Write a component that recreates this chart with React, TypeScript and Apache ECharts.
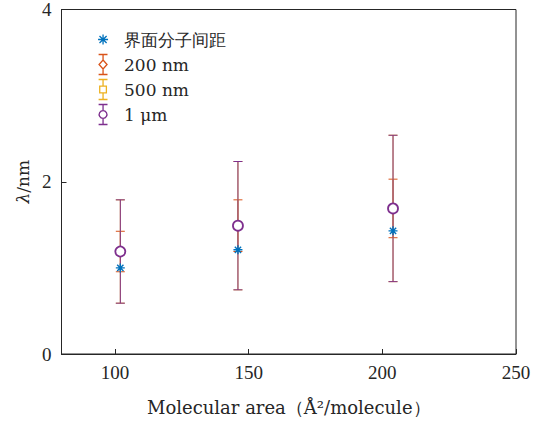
import React, { useEffect, useRef } from "react";
import * as echarts from "echarts";

const xValues = [102, 146, 204];
const spacingValues = [1.0, 1.21, 1.43];
const nm200Mean = [1.19, 1.49, 1.69];
const nm200Err = [0.235, 0.3, 0.34];
const nm500Mean = [1.19, 1.49, 1.69];
const nm500Err = [0.6, 0.745, 0.85];
const um1Mean = [1.19, 1.49, 1.69];
const um1Err = [0.6, 0.745, 0.85];
const xTicks = [100, 150, 200, 250];

const seriesNames = ["界面分子间距", "200 nm", "500 nm", "1 μm"];
const colors = ["#0072BD", "#D95319", "#EDB120", "#7E2F8E"];

const TICKFONT = "Liberation Serif";
const SERIF = "DejaVu Serif";
const AX = "#262626";

const asterisk =
  "path://M5,0L5,10M0,5L10,5M1.5,1.5L8.5,8.5M1.5,8.5L8.5,1.5";
const asteriskLegend =
  "path://M0,0L0,0M10,18L10,18M5,4.5L5,13.5M0.5,9L9.5,9M1.8,5.8L8.2,12.2M1.8,12.2L8.2,5.8";
const ebDiamond =
  "path://M1,0L9,0M5,0L5,5M5,5L8.6,9L5,13L1.4,9ZM5,13L5,18M1,18L9,18";
const ebSquare =
  "path://M1,0L9,0M5,0L5,6M2,6L8,6L8,12L2,12ZM5,12L5,18M1,18L9,18";
const ebCircle =
  "path://M1,0L9,0M5,0L5,5.5M5,5.5A3.5,3.5,0,1,1,4.99,5.5ZM5,12.5L5,18M1,18L9,18";

function errorSeries(name: string, color: string, mean: number[], err: number[], z: number) {
  return {
    name,
    type: "custom",
    z,
    data: xValues.map((x, i) => [x, mean[i], err[i]]),
    encode: { x: 0, y: 1 },
    renderItem: (params: any, api: any) => {
      const x = api.value(0);
      const y = api.value(1);
      const e = api.value(2);
      const top = api.coord([x, y + e]);
      const bot = api.coord([x, y - e]);
      const hw = 4.5;
      const style = { stroke: color, lineWidth: 1, fill: "none" };
      return {
        type: "group",
        children: [
          { type: "line", shape: { x1: top[0], y1: top[1], x2: bot[0], y2: bot[1] }, style },
          { type: "line", shape: { x1: top[0] - hw, y1: top[1], x2: top[0] + hw, y2: top[1] }, style },
          { type: "line", shape: { x1: bot[0] - hw, y1: bot[1], x2: bot[0] + hw, y2: bot[1] }, style },
        ],
      };
    },
  };
}

function markerSeries(name: string, color: string, fill: string, mean: number[], symbol: string, size: number, z: number) {
  return {
    name,
    type: "scatter",
    z,
    symbol,
    symbolSize: size,
    data: xValues.map((x, i) => [x, mean[i]]),
    itemStyle: { color: fill, borderColor: color, borderWidth: 1.8, opacity: 1 },
    emphasis: { disabled: true },
  };
}

export default function App() {
  const ref = useRef<HTMLDivElement>(null);
  useEffect(() => {
    if (!ref.current) return;
    const chart = echarts.init(ref.current, null, { renderer: "svg" });
    const legendIcons = [asteriskLegend, ebDiamond, ebSquare, ebCircle];
    chart.setOption({
      animation: false,
      textStyle: { fontFamily: SERIF },
      grid: {
        left: 61.5,
        right: 28,
        top: 7.5,
        bottom: 67,
        show: true,
        borderColor: AX,
        borderWidth: 1,
        backgroundColor: "transparent",
      },
      legend: {
        orient: "vertical",
        left: 95,
        top: 27,
        padding: 0,
        itemWidth: 32,
        itemHeight: 20,
        itemGap: 0,
        symbolKeepAspect: true,
        textStyle: { fontFamily: SERIF, fontSize: 17, color: AX },
        data: seriesNames.map((n, i) => ({
          name: n,
          icon: legendIcons[i],
          itemStyle: { color: "none", borderColor: colors[i], borderWidth: 1.3 },
        })),
      },
      xAxis: {
        type: "value",
        min: 80,
        max: 250,
        name: "Molecular area（Å²/molecule）",
        nameLocation: "middle",
        nameGap: 44,
        nameTextStyle: { fontFamily: SERIF, fontSize: 18, color: AX },
        axisLine: { lineStyle: { color: AX, width: 1 } },
        axisTick: { inside: true, length: 5, customValues: xTicks, lineStyle: { color: AX } },
        axisLabel: { customValues: xTicks, fontFamily: TICKFONT, fontSize: 19, color: AX, margin: 9 },
        splitLine: { show: false },
      },
      yAxis: {
        type: "value",
        min: 0,
        max: 4,
        interval: 2,
        name: "{i|λ}/nm",
        nameLocation: "middle",
        nameGap: 30,
        nameTextStyle: {
          fontFamily: SERIF,
          fontSize: 17,
          color: AX,
          rich: { i: { fontFamily: SERIF, fontSize: 17, fontStyle: "italic", color: AX } },
        },
        axisLine: { show: true, lineStyle: { color: AX, width: 1 } },
        axisTick: { show: true, inside: true, length: 5, lineStyle: { color: AX } },
        axisLabel: { fontFamily: TICKFONT, fontSize: 19, color: AX, margin: 10 },
        splitLine: { show: false },
      },
      series: [
        errorSeries(seriesNames[1], colors[1], nm200Mean, nm200Err, 2),
        markerSeries(seriesNames[1], colors[1], "none", nm200Mean, "diamond", 7, 3),
        errorSeries(seriesNames[2], colors[2], nm500Mean, nm500Err, 4),
        markerSeries(seriesNames[2], colors[2], "none", nm500Mean, "rect", 6, 5),
        errorSeries(seriesNames[3], colors[3], um1Mean, um1Err, 6),
        markerSeries(seriesNames[3], colors[3], "#ffffff", um1Mean, "circle", 10, 7),
        {
          name: seriesNames[0],
          type: "scatter",
          z: 8,
          symbol: asterisk,
          symbolSize: 9,
          data: xValues.map((x, i) => [x, spacingValues[i]]),
          itemStyle: { color: "none", borderColor: colors[0], borderWidth: 1.4, opacity: 1 },
          emphasis: { disabled: true },
        },
      ],
    });
    return () => chart.dispose();
  }, []);
  return (
    <div
      ref={ref}
      style={{ position: "absolute", left: 0, top: 0, width: 544, height: 421 }}
    />
  );
}
